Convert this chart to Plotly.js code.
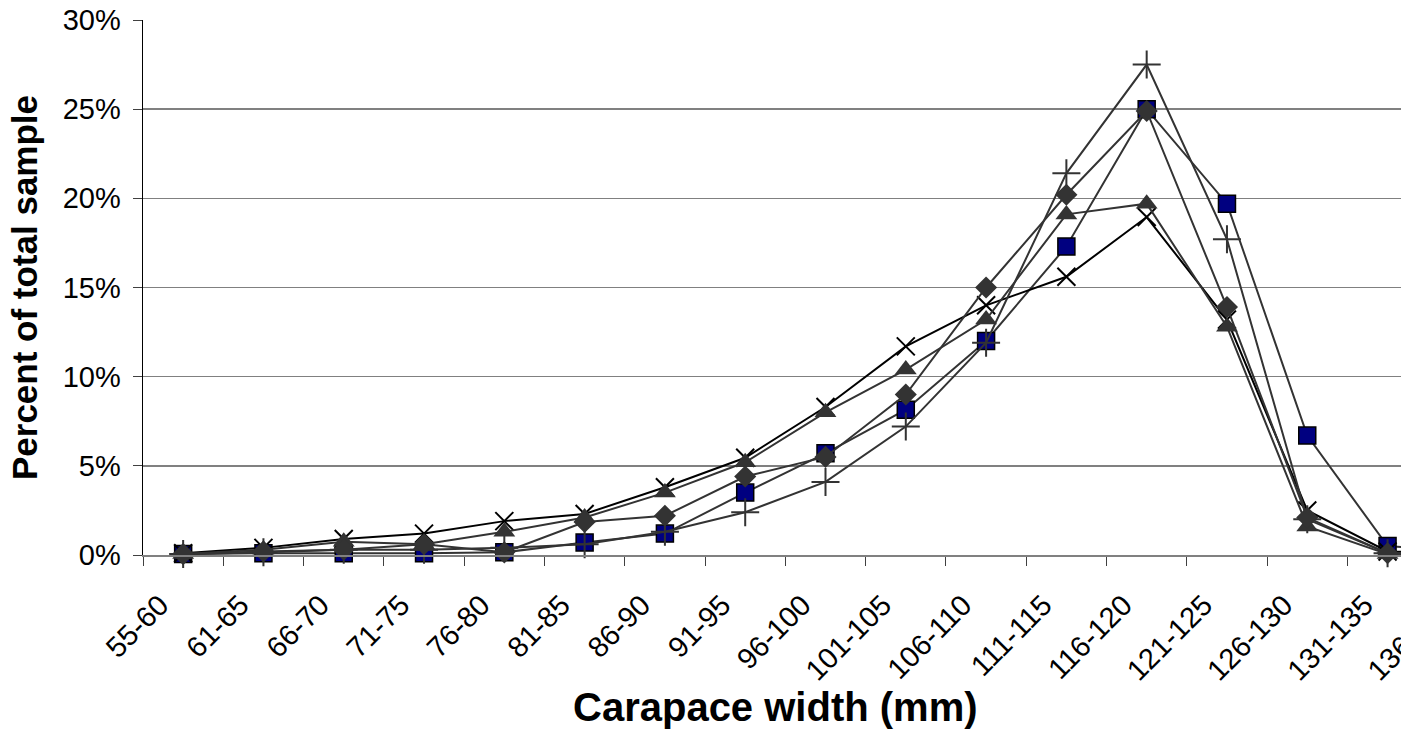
<!DOCTYPE html>
<html>
<head>
<meta charset="utf-8">
<script src="https://cdn.plot.ly/plotly-3.0.1.min.js"></script>
<style>
  html, body { margin: 0; padding: 0; background: #fff; overflow: hidden; }
  #chart { width: 1530px; height: 752px; }
</style>
</head>
<body>
<div id="chart"></div>
<script>
const categories = ["55-60","61-65","66-70","71-75","76-80","81-85","86-90","91-95","96-100","101-105","106-110","111-115","116-120","121-125","126-130","131-135","136-140"];

const seriesSquare   = [0.05, 0.1, 0.1, 0.1, 0.15, 0.7, 1.2, 3.5, 5.7, 8.15, 12.0, 17.3, 25.0, 19.7, 6.7, 0.5, 0.2];
const seriesX        = [0.1, 0.4, 0.9, 1.2, 1.9, 2.3, 3.8, 5.45, 8.3, 11.7, 14.0, 15.6, 18.95, 13.2, 2.5, 0.2, 0.1];
const seriesPlus     = [0.05, 0.15, 0.3, 0.3, 0.4, 0.6, 1.3, 2.4, 4.1, 7.2, 11.9, 21.4, 27.5, 17.7, 2.0, 0.1, 0.1];
const seriesTriangle = [0.05, 0.3, 0.75, 0.6, 1.3, 2.1, 3.5, 5.2, 8.0, 10.4, 13.2, 19.1, 19.7, 12.8, 1.6, 0.05, 0.05];
const seriesDiamond  = [0.05, 0.2, 0.3, 0.6, 0.15, 1.85, 2.2, 4.4, 5.5, 9.0, 15.0, 20.2, 24.9, 13.9, 2.1, 0.1, 0.1];

const xTitle = "Carapace width (mm)";
const yTitle = "Percent of total sample";

const FONT = "Liberation Sans, Arial, sans-serif";
const lineGray = "#333333";

const traces = [
  {x: categories, y: seriesSquare, mode: "lines+markers", cliponaxis: false,
   line: {color: lineGray, width: 2},
   marker: {symbol: "square", size: 17, color: "#000080", line: {color: "#000000", width: 1.5}}},
  {x: categories, y: seriesX, mode: "lines+markers", cliponaxis: false,
   line: {color: "#000000", width: 2},
   marker: {symbol: "x-thin", size: 18, color: "#000000", line: {color: "#000000", width: 2}}},
  {x: categories, y: seriesPlus, mode: "lines+markers", cliponaxis: false,
   line: {color: lineGray, width: 2},
   marker: {symbol: "cross-thin", size: 20, color: lineGray, line: {color: lineGray, width: 2}}},
  {x: categories, y: seriesTriangle, mode: "lines+markers", cliponaxis: false,
   line: {color: lineGray, width: 2},
   marker: {symbol: "triangle-up", size: 19, color: lineGray, line: {color: lineGray, width: 0}}},
  {x: categories, y: seriesDiamond, mode: "lines+markers", cliponaxis: false,
   line: {color: lineGray, width: 2},
   marker: {symbol: "diamond", size: 17, color: lineGray, line: {color: lineGray, width: 0}}}
];

const layout = {
  width: 1530, height: 752,
  margin: {l: 143, r: 22, t: 20, b: 197},
  paper_bgcolor: "#ffffff", plot_bgcolor: "#ffffff",
  showlegend: false,
  font: {family: FONT, color: "#000000"},
  xaxis: {
    type: "category",
    range: [-0.5, 16.5],
    tickangle: -45,
    tickfont: {family: FONT, size: 29, color: "#000000"},
    ticks: "outside", ticklen: 9, tickcolor: "#404040", tickwidth: 1,
    tickson: "boundaries",
    ticklabelstandoff: 20,
    ticklabelshift: -23,
    showline: true, linecolor: "#808080", linewidth: 1.5,
    showgrid: false, zeroline: false,
    title: {text: ""}
  },
  yaxis: {
    range: [0, 30],
    dtick: 5, tick0: 0,
    ticksuffix: "%",
    tickfont: {family: FONT, size: 29, color: "#000000"},
    ticks: "outside", ticklen: 9, tickcolor: "#404040", tickwidth: 1,
    ticklabelstandoff: 6,
    showline: true, linecolor: "#000000", linewidth: 1.5,
    showgrid: true, gridcolor: "#808080", gridwidth: 1.5,
    zeroline: false,
    title: {text: yTitle, font: {family: FONT, size: 35, color: "#000000", weight: "bold"}, standoff: 14}
  },
  annotations: [{
    text: xTitle, xref: "paper", yref: "paper",
    x: (775 - 143) / 1365, y: -(707 - 555) / 535,
    xanchor: "center", yanchor: "middle", showarrow: false,
    font: {family: FONT, size: 40, color: "#000000", weight: "bold"}
  }]
};

Plotly.newPlot("chart", traces, layout, {displayModeBar: false, staticPlot: true});
</script>
</body>
</html>
